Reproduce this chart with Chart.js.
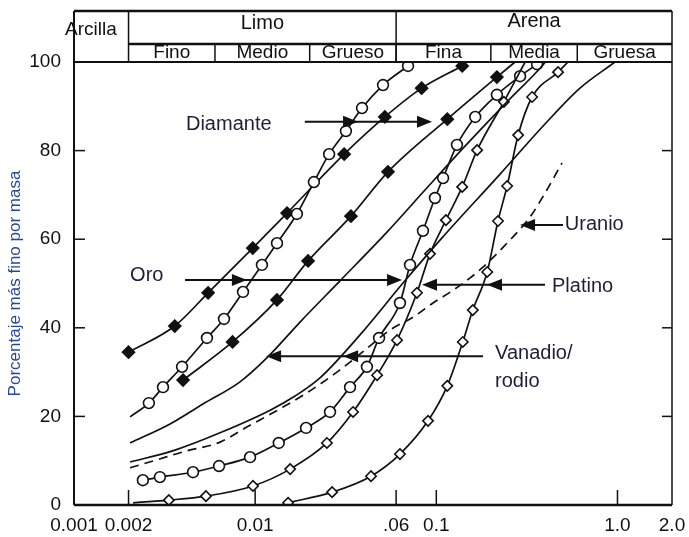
<!DOCTYPE html>
<html>
<head>
<meta charset="utf-8">
<script src="https://cdn.jsdelivr.net/npm/chart.js@4.4.1/dist/chart.umd.min.js"></script>
<style>
  html, body { margin: 0; padding: 0; background: #fff; }
</style>
</head>
<body>
<canvas id="curvas" width="689" height="537"></canvas>
<script>
// ejes
const xTicks = [0.001, 0.002, 0.01, 0.06, 0.1, 1, 2];
const xTickLabels = ["0.001", "0.002", "0.01", ".06", "0.1", "1.0", "2.0"];
const xMarcas = [0.002, 0.01, 0.06, 0.1, 1];
const yMarcas = [20, 40, 60, 80];

// cabecera de clases granulométricas
const clases = ["Arcilla", "Limo", "Arena"];
const claseBordes = [0.002, 0.06];
const subclases = ["Fino", "Medio", "Grueso", "Fina", "Media", "Gruesa"];
const subBordes = [0.002, 0.006, 0.02, 0.06, 0.2, 0.6, 2];

// curvas (tamaño en mm, % más fino)
const diamanteA_x = [0.002, 0.0036, 0.0055, 0.0097, 0.015, 0.031, 0.052, 0.083, 0.139];
const diamanteA_y = [34.5, 40.4, 47.9, 58.0, 65.9, 79.2, 87.6, 94.1, 99.1];

const diamanteB_x = [0.0040, 0.0075, 0.0132, 0.0196, 0.0338, 0.0541, 0.115, 0.216, 0.272];
const diamanteB_y = [28.2, 36.8, 46.3, 55.1, 65.2, 75.2, 87.1, 96.6, 100];

const oroA_x = [0.00204, 0.00259, 0.0031, 0.00395, 0.00542, 0.00673, 0.00857, 0.0109, 0.0132, 0.0170, 0.0211, 0.0256, 0.0317, 0.0389, 0.0508, 0.0698];
const oroA_y = [19.9, 23.0, 26.6, 31.2, 37.7, 42.0, 48.1, 54.2, 59.1, 65.7, 72.9, 79.2, 84.4, 89.6, 94.8, 99.1];

const oroB_x = [0.0024, 0.00298, 0.00454, 0.00632, 0.00937, 0.0135, 0.0191, 0.0259, 0.0334, 0.0414, 0.0483, 0.0630, 0.0716, 0.0844, 0.0983, 0.109, 0.130, 0.164, 0.216, 0.290, 0.360];
const oroB_y = [5.6, 6.3, 7.4, 8.8, 10.8, 14.0, 17.4, 21.0, 26.6, 31.2, 37.7, 45.6, 54.2, 61.9, 69.3, 73.8, 81.3, 87.6, 92.6, 96.8, 99.5];

const platinoA_x = [0.00212, 0.00334, 0.00535, 0.00973, 0.0156, 0.0249, 0.0347, 0.0471, 0.0607, 0.0782, 0.0923, 0.113, 0.139, 0.168, 0.236, 0.309];
const platinoA_y = [0.5, 1.1, 2.0, 4.3, 8.1, 14.0, 21.0, 29.3, 37.2, 47.9, 56.7, 64.3, 71.8, 80.1, 91.0, 100];

const platinoB_x = [0.0152, 0.0266, 0.0436, 0.0630, 0.0900, 0.115, 0.140, 0.159, 0.191, 0.219, 0.246, 0.283, 0.338, 0.470, 0.533];
const platinoB_y = [0.5, 2.9, 6.5, 11.5, 19.0, 26.9, 36.8, 44.0, 52.6, 64.1, 72.0, 83.5, 92.1, 97.7, 100];

const vanadio_x = [0.00204, 0.00339, 0.00515, 0.00825, 0.0116, 0.0177, 0.0294, 0.0534, 0.0866, 0.144, 0.239, 0.374, 0.40];
const vanadio_y = [14.0, 18.3, 22.8, 27.8, 33.2, 41.3, 50.6, 61.6, 71.1, 81.0, 90.5, 98.6, 100];

const rodio_x = [0.00204, 0.00361, 0.0064, 0.0121, 0.0166, 0.0228, 0.0379, 0.0655, 0.1075, 0.225, 0.398, 0.621, 0.969];
const rodio_y = [9.7, 12.4, 16.3, 21.4, 24.6, 28.7, 38.4, 50.1, 60.3, 74.7, 86.0, 94.1, 100];

const uranio_x = [0.00204, 0.00287, 0.0040, 0.0064, 0.0090, 0.01425, 0.0193, 0.0294, 0.0404, 0.0555, 0.0744, 0.0959, 0.124, 0.153, 0.179, 0.234, 0.329, 0.398, 0.494];
const uranio_y = [8.4, 10.2, 12.0, 14.2, 17.6, 22.1, 25.3, 30.5, 35.0, 39.5, 42.4, 45.6, 48.5, 51.2, 53.5, 58.2, 65.0, 70.4, 77.2];

// rótulos con flechas (posiciones en unidades de los ejes)
const notas = [
  { texto: ["Diamante"], tx: 0.00415, ty: 85.8, desde: 0.0188, hasta: 0.0947, puntas: [0.0370, 0.0947], ay: 86.5 },
  { texto: ["Oro"], tx: 0.00204, ty: 51.9, desde: 0.0041, hasta: 0.0647, puntas: [0.0090, 0.0647], ay: 50.8 },
  { texto: ["Platino"], tx: 0.435, ty: 49.4, desde: 0.398, hasta: 0.0834, puntas: [0.0834, 0.1905], ay: 49.7 },
  { texto: ["Vanadio/", "rodio"], tx: 0.211, ty: 34.1, desde: 0.181, hasta: 0.0115, puntas: [0.0115, 0.0306], ay: 33.6 },
  { texto: ["Uranio"], tx: 0.512, ty: 63.4, desde: 0.500, hasta: 0.290, puntas: [0.290], ay: 63.2 },
];

const fuente = "'Liberation Sans', Arial, sans-serif";
Chart.defaults.font.family = fuente;

function serie(xs, ys, estilo) {
  const sinMarca = estilo.sinMarca || [];
  const n = xs.length;
  return {
    data: xs.map((x, i) => ({ x, y: ys[i] })),
    borderColor: "#111",
    borderWidth: 1.7,
    borderDash: estilo.dash || [],
    cubicInterpolationMode: "monotone",
    pointStyle: estilo.marca || "circle",
    pointRadius: (c) => (estilo.marca && !sinMarca.includes(c.dataIndex) && !(sinMarca.includes(-1) && c.dataIndex === n - 1)) ? estilo.r : 0,
    pointBackgroundColor: estilo.relleno || "#fff",
    pointBorderColor: "#111",
    pointBorderWidth: 1.6,
  };
}

const rellenoDiamante = { marca: "rectRot", r: 6, relleno: "#111" };
const circulo = { marca: "circle", r: 5.4, relleno: "#fff" };
const rombo = { marca: "rectRot", r: 5.2, relleno: "#fff" };

const datasets = [
  serie(uranio_x, uranio_y, { dash: [9, 6] }),
  serie(rodio_x, rodio_y, {}),
  serie(vanadio_x, vanadio_y, {}),
  serie(platinoB_x, platinoB_y, { ...rombo, sinMarca: [-1] }),
  serie(platinoA_x, platinoA_y, { ...rombo, sinMarca: [0, -1] }),
  serie(oroB_x, oroB_y, circulo),
  serie(oroA_x, oroA_y, { ...circulo, sinMarca: [0] }),
  serie(diamanteB_x, diamanteB_y, { ...rellenoDiamante, sinMarca: [-1] }),
  serie(diamanteA_x, diamanteA_y, rellenoDiamante),
];

function flecha(ctx, x1, x2, y, puntas) {
  const dir = Math.sign(x2 - x1);
  ctx.lineWidth = 2;
  ctx.beginPath();
  ctx.moveTo(x1, y);
  ctx.lineTo(x2 - dir * 4, y);
  ctx.stroke();
  puntas.forEach((p) => {
    ctx.beginPath();
    ctx.moveTo(p, y);
    ctx.lineTo(p - dir * 15, y - 6);
    ctx.lineTo(p - dir * 15, y + 6);
    ctx.closePath();
    ctx.fill();
  });
}

const marco = {
  id: "marco",
  afterDraw(chart) {
    const { ctx, chartArea: a, scales: { x, y } } = chart;
    const X = (v) => x.getPixelForValue(v);
    const Y = (v) => y.getPixelForValue(v);
    const arriba = a.top - 51;
    const medio = a.top - 18;

    ctx.save();
    ctx.strokeStyle = "#111";
    ctx.fillStyle = "#111";
    const linea = (x1, y1, x2, y2, w) => {
      ctx.lineWidth = w;
      ctx.beginPath();
      ctx.moveTo(x1, y1);
      ctx.lineTo(x2, y2);
      ctx.stroke();
    };

    // marco del gráfico
    linea(a.left, a.bottom, a.right, a.bottom, 2.5);
    linea(a.left, arriba, a.left, a.bottom, 2);
    linea(a.right, arriba, a.right, a.bottom, 1.5);
    linea(a.left, a.top, a.right, a.top, 2);

    // marcas interiores
    xMarcas.forEach((v) => linea(X(v), a.bottom, X(v), a.bottom - 15, 1.5));
    yMarcas.forEach((v) => {
      linea(a.left, Y(v), a.left + 11, Y(v), 1.5);
      linea(a.right - 10, Y(v), a.right, Y(v), 1.5);
    });

    // cabecera
    linea(a.left, arriba, a.right, arriba, 2.5);
    linea(X(claseBordes[0]), medio, a.right, medio, 2.5);
    claseBordes.forEach((v) => linea(X(v), arriba, X(v), a.top, 1.5));
    subBordes.slice(1, -1).forEach((v) => linea(X(v), medio, X(v), a.top, 1.5));

    ctx.textBaseline = "middle";
    ctx.font = "19px " + fuente;
    ctx.textAlign = "left";
    ctx.fillText(clases[0], a.left - 9, arriba + 19);
    ctx.textAlign = "center";
    ctx.font = "20px " + fuente;
    ctx.fillText(clases[1], (X(claseBordes[0]) + X(claseBordes[1])) / 2, arriba + 12);
    ctx.fillText(clases[2], (X(claseBordes[1]) + a.right) / 2, arriba + 10);
    ctx.font = "19px " + fuente;
    subclases.forEach((t, i) => {
      ctx.fillText(t, (X(subBordes[i]) + X(subBordes[i + 1])) / 2, medio + 9);
    });

    // rótulos
    ctx.fillStyle = "#1b1f3a";
    ctx.font = "20px " + fuente;
    ctx.textAlign = "left";
    notas.forEach((n) => {
      n.texto.forEach((t, i) => ctx.fillText(t, X(n.tx), Y(n.ty) + i * 28));
      ctx.fillStyle = "#111";
      flecha(ctx, X(n.desde), X(n.hasta), Y(n.ay), n.puntas.map(X));
      ctx.fillStyle = "#1b1f3a";
    });
    ctx.restore();
  },
};

new Chart(document.getElementById("curvas"), {
  type: "line",
  data: { datasets },
  options: {
    responsive: false,
    animation: false,
    devicePixelRatio: 1,
    layout: { padding: { top: 62, right: 17, bottom: 0, left: 0 } },
    plugins: { legend: { display: false }, tooltip: { enabled: false } },
    scales: {
      x: {
        type: "logarithmic",
        min: 0.001,
        max: 2,
        afterBuildTicks: (s) => { s.ticks = xTicks.map((v) => ({ value: v })); },
        afterFit: (s) => { s.height = 32; },
        grid: { display: false },
        border: { display: false },
        ticks: {
          autoSkip: false,
          maxRotation: 0,
          padding: 1,
          color: "#111",
          font: { size: 19 },
          callback: (v, i) => xTickLabels[i],
        },
      },
      y: {
        min: 0,
        max: 100,
        afterFit: (s) => { s.width = 74; },
        grid: { display: false },
        border: { display: false },
        ticks: { stepSize: 20, padding: 5, color: "#111", font: { size: 19 } },
        title: {
          display: true,
          text: "Porcentaje más fino por masa",
          color: "#27479a",
          font: { size: 17 },
          padding: { top: 5, bottom: 0 },
        },
      },
    },
  },
  plugins: [marco],
});
</script>
</body>
</html>
